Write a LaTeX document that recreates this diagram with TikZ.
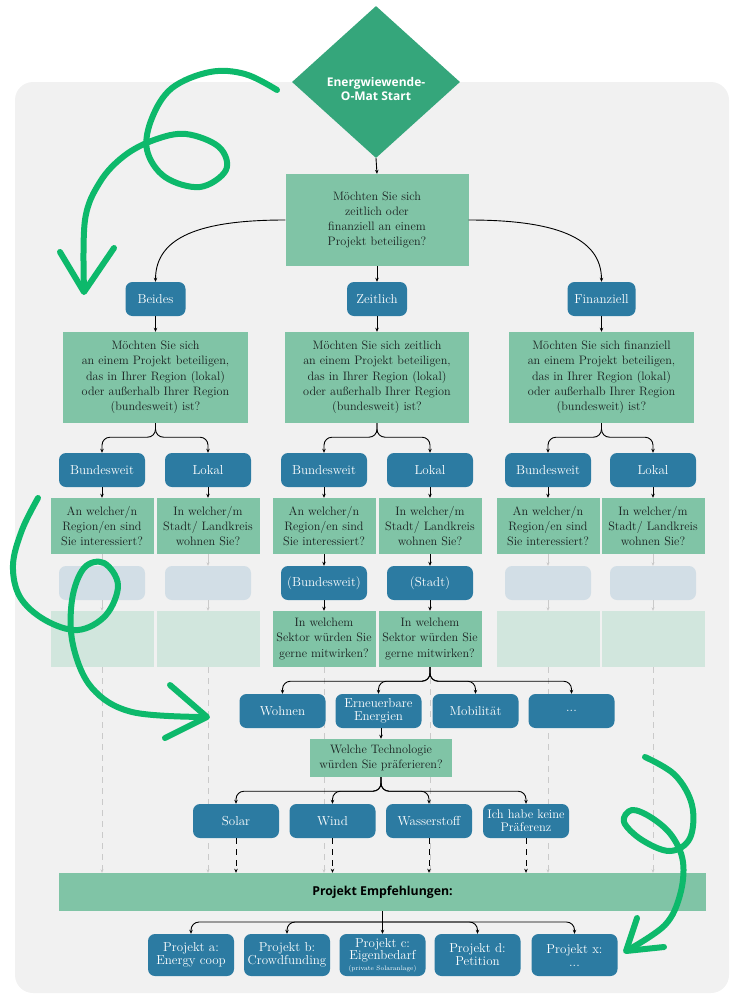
\documentclass[tikz,border=0pt]{standalone}
\usepackage{fontspec}
\usepackage{xcolor}
\usepackage{tikz}
\usetikzlibrary{shapes.geometric,arrows.meta}
\newfontfamily\headfont{Open Sans}
\definecolor{startgreen}{HTML}{35A67B}
\definecolor{qgreen}{HTML}{80C4A6}
\definecolor{optblue}{HTML}{2C7BA2}
\definecolor{paleblue}{HTML}{D2DEE6}
\definecolor{palegreen}{HTML}{D1E6DD}
\definecolor{panel}{HTML}{F1F1F1}
\definecolor{swirl}{HTML}{0DB96B}
\definecolor{ink}{HTML}{1A2020}
\definecolor{ghost}{HTML}{CACACA}
\pgfdeclarelayer{bg}
\pgfsetlayers{bg,main}

\begin{document}
\begin{tikzpicture}[x=1pt,y=-1pt,
        start/.style = {diamond, fill=startgreen, minimum width=168pt, minimum height=152pt, inner sep=0pt},
        starttext/.style = {text=white, align=center, font=\headfont\bfseries\fontsize{12}{14}\selectfont},
        quest/.style = {fill=qgreen, text=ink, align=center, inner sep=0pt, font=\fontsize{12.2}{15.3}\selectfont},
        opt/.style = {fill=optblue, text=white, rounded corners=7pt, align=center, inner sep=0pt,
                      minimum width=86pt, minimum height=34pt, font=\fontsize{13}{13}\selectfont},
        ghostopt/.style = {fill=paleblue, rounded corners=7pt, minimum width=86pt, minimum height=34pt},
        ghostq/.style = {fill=palegreen, minimum width=103pt, minimum height=56pt},
        arr/.style = {-{Stealth[length=4pt,width=3.5pt]}, line width=0.9pt},
        fork/.style = {arr, rounded corners=8pt},
        ghostarr/.style = {-{Stealth[length=3.5pt,width=3pt]}, ghost, line width=0.8pt},
        ghostline/.style = {ghostarr, dash pattern=on 6pt off 5pt},
        dropline/.style = {arr, dash pattern=on 6pt off 5pt},
        swirlline/.style = {swirl, line width=6pt, line cap=round, line join=round}
    ]
        \useasboundingbox (0,0) rectangle (730,999);

        % start and first question
        \node[start] (start) at (376,82) {};
        \node[starttext] (starttitle) at (376,89) {Energwiewende-\\O-Mat Start};
        \node[quest, minimum width=183pt, minimum height=92pt] (q0) at (377,220)
            {Möchten Sie sich\\zeitlich oder\\finanziell an einem\\Projekt beteiligen?};

        \node[opt, minimum width=60pt] (beides) at (155.5,299) {Beides};
        \node[opt, minimum width=60pt] (zeit) at (377,299) {Zeitlich};
        \node[opt, minimum width=68pt] (fin) at (601.5,299) {Finanziell};

        % region questions
        \node[quest, minimum width=185pt, minimum height=91pt] (qb) at (155.5,377.5)
            {Möchten Sie sich\\an einem Projekt beteiligen,\\das in Ihrer Region (lokal)\\oder außerhalb Ihrer Region\\(bundesweit) ist?};
        \node[quest, minimum width=184pt, minimum height=91pt] (qz) at (377,377.5)
            {Möchten Sie sich zeitlich\\an einem Projekt beteiligen,\\das in Ihrer Region (lokal)\\oder außerhalb Ihrer Region\\(bundesweit) ist?};
        \node[quest, minimum width=185pt, minimum height=91pt] (qf) at (601.5,377.5)
            {Möchten Sie sich finanziell\\an einem Projekt beteiligen,\\das in Ihrer Region (lokal)\\oder außerhalb Ihrer Region\\(bundesweit) ist?};

        \node[opt] (bb) at (102,470) {Bundesweit};
        \node[opt] (bl) at (208,470) {Lokal};
        \node[opt] (zb) at (324,470) {Bundesweit};
        \node[opt] (zl) at (430,470) {Lokal};
        \node[opt] (fb) at (548,470) {Bundesweit};
        \node[opt] (fl) at (653,470) {Lokal};

        \node[quest, minimum width=103pt, minimum height=56pt] (rb) at (102,526) {An welcher/n\\Region/en sind\\Sie interessiert?};
        \node[quest, minimum width=103pt, minimum height=56pt] (rl) at (208,526) {In welcher/m\\Stadt/ Landkreis\\wohnen Sie?};
        \node[quest, minimum width=103pt, minimum height=56pt] (zr) at (324,526) {An welcher/n\\Region/en sind\\Sie interessiert?};
        \node[quest, minimum width=103pt, minimum height=56pt] (zs) at (430,526) {In welcher/m\\Stadt/ Landkreis\\wohnen Sie?};
        \node[quest, minimum width=103pt, minimum height=56pt] (fr) at (548,526) {An welcher/n\\Region/en sind\\Sie interessiert?};
        \node[quest, minimum width=103pt, minimum height=56pt] (fs) at (653,526) {In welcher/m\\Stadt/ Landkreis\\wohnen Sie?};

        \node[ghostopt] (gb1) at (102,583) {};
        \node[ghostopt] (gb2) at (208,583) {};
        \node[opt] (zbund) at (324,583) {(Bundesweit)};
        \node[opt] (zstadt) at (430,583) {(Stadt)};
        \node[ghostopt] (gb5) at (548,583) {};
        \node[ghostopt] (gb6) at (653,583) {};

        \node[ghostq] (sb) at (102,639) {};
        \node[ghostq] (sl) at (208,639) {};
        \node[quest, minimum width=103pt, minimum height=56pt] (sz1) at (324,639) {In welchem\\Sektor würden Sie\\gerne mitwirken?};
        \node[quest, minimum width=103pt, minimum height=56pt] (sz2) at (430,639) {In welchem\\Sektor würden Sie\\gerne mitwirken?};
        \node[ghostq] (sf1) at (548,639) {};
        \node[ghostq] (sf2) at (653,639) {};

        % sectors and technologies
        \node[opt] (wohnen) at (282.5,711) {Wohnen};
        \node[opt] (erneu) at (378.5,711) {Erneuerbare\\Energien};
        \node[opt] (mobil) at (475.5,711) {Mobilität};
        \node[opt] (dots) at (571.5,711) {...};

        \node[quest, minimum width=142pt, minimum height=38pt] (tech) at (381,758) {Welche Technologie\\würden Sie präferieren?};

        \node[opt] (solar) at (236,821) {Solar};
        \node[opt] (wind) at (332.5,821) {Wind};
        \node[opt] (wasser) at (429,821) {Wasserstoff};
        \node[opt, font=\fontsize{12.5}{13}\selectfont] (keine) at (526,821) {Ich habe keine\\Präferenz};

        \node[fill=qgreen, minimum width=647pt, minimum height=38pt, font=\headfont\bfseries\fontsize{12.3}{14}\selectfont] (emp) at (382.5,892) {Projekt Empfehlungen:};
        \coordinate (hub) at (382.5,922);

        \node[opt, minimum height=42pt] (pa) at (191,955) {Projekt a:\\Energy coop};
        \node[opt, minimum height=42pt] (pb) at (287,955) {Projekt b:\\Crowdfunding};
        \node[opt, minimum height=42pt, font=\fontsize{13}{12}\selectfont] (pc) at (382.5,955)
            {Projekt c:\\Eigenbedarf\\[-1pt]{\fontsize{6.5}{7}\selectfont(private Solaranlage)}};
        \node[opt, minimum height=42pt] (pd) at (477.5,955) {Projekt d:\\Petition};
        \node[opt, minimum height=42pt] (px) at (574.5,955) {Projekt x:\\...};

        % connectors
        \draw[arr] (start.south) -- (q0.north);
        \draw[arr] (q0.west) .. controls +(-85,0) and +(0,-45) .. (beides.north);
        \draw[arr] (q0.east) .. controls +(85,0) and +(0,-45) .. (fin.north);
        \draw[arr] (q0.south) -- (zeit.north);
        \foreach \a/\b in {beides/qb, zeit/qz, fin/qf}
            \draw[arr] (\a.south) -- (\b.north);
        \foreach \p/\c in {qb/bb, qb/bl, qz/zb, qz/zl, qf/fb, qf/fl}
            \draw[fork] (\p.south) -- ++(0,14) -| (\c.north);
        \foreach \a/\b in {bb/rb, bl/rl, zb/zr, zl/zs, fb/fr, fl/fs}
            \draw[arr] (\a.south) -- (\b.north);
        \draw[arr] (zr.south) -- (zbund.north);
        \draw[arr] (zbund.south) -- (sz1.north);
        \draw[arr] (zs.south) -- (zstadt.north);
        \draw[arr] (zstadt.south) -- (sz2.north);
        \foreach \a/\b/\c in {rb/gb1/sb, rl/gb2/sl, fr/gb5/sf1, fs/gb6/sf2} {
            \draw[ghostarr] (\a.south) -- (\b.north);
            \draw[ghostarr] (\b.south) -- (\c.north);
        }
        \foreach \c in {wohnen, erneu, mobil, dots}
            \draw[fork] (sz2.south) -- ++(0,14) -| (\c.north);
        \draw[arr] (tech.north |- erneu.south) -- (tech.north);
        \foreach \c in {solar, wind, wasser, keine}
            \draw[fork] (tech.south) -- ++(0,14) -| (\c.north);
        \foreach \c in {solar, wind, wasser, keine}
            \draw[dropline] (\c.south) -- (\c.south |- emp.north);
        \draw[line width=0.9pt] (emp.south) -- (hub);
        \draw[arr] (hub) -- (pc.north);
        \foreach \c in {pa, pb, pd, px}
            \draw[fork] (hub) -| (\c.north);

        \begin{pgfonlayer}{bg}
            \fill[panel, rounded corners=18pt] (15,82) rectangle (729,993);
            \foreach \s in {sb, sl, sz1, sz2, sf1, sf2}
                \draw[ghostline] (\s.south) -- (\s.south |- emp.north);
        \end{pgfonlayer}

        % hand drawn swirls
        \draw[swirlline] plot[smooth, tension=0.6] coordinates {(277,90) (245,74) (210,72) (172,88) (152,118) (147,150) (165,177) (200,187) (226,170) (219,147) (186,134) (154,140) (124,156) (100,182) (85,220) (84,290)};
        \draw[swirlline] (60,252) -- (84,292) -- (114,248);
        \draw[swirlline] plot[smooth, tension=0.6] coordinates {(38,498) (22,530) (13,565) (20,597) (45,620) (78,630) (106,615) (118,585) (104,563) (84,568) (72,600) (73,645) (92,688) (132,712) (205,717)};
        \draw[swirlline] (170,685) -- (207,717) -- (165,738);
        \draw[swirlline] plot[smooth, tension=0.6] coordinates {(645,757) (675,775) (692,805) (690,838) (670,851) (642,840) (624,822) (632,810) (652,818) (672,836) (683,862) (680,895) (665,925) (628,950)};
        \draw[swirlline] (637,918) -- (626,951) -- (664,947);
    \end{tikzpicture}
\end{document}
